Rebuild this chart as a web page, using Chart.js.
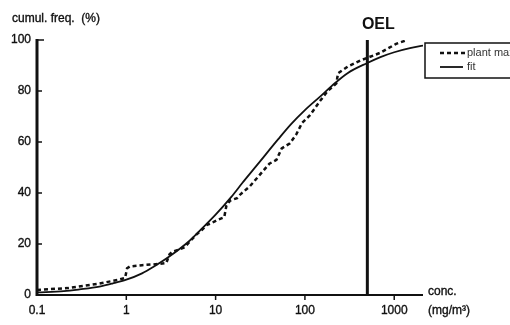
<!DOCTYPE html>
<html>
<head>
    <meta charset="utf-8">
    <script src="https://cdn.jsdelivr.net/npm/chart.js@4.4.0/dist/chart.umd.min.js"></script>
    <style>
        body { margin: 0; background: #fff; }
        #chart-container { width: 510px; height: 325px; }
    </style>
</head>
<body>
    <div id="chart-container">
        <canvas id="freqChart" width="510" height="325"></canvas>
    </div>
    <script>
        // data
        const plantConc = [0.1, 0.22, 0.5, 0.8, 0.97, 1.02, 1.1, 1.5, 2.0, 2.8, 3.05, 3.3, 4.0, 4.5, 5, 6, 7, 8, 9, 10.4, 12.5, 13.2, 14.5, 17.4, 19, 24, 31, 40, 48, 55, 68, 80, 93, 114, 147, 180, 225, 235, 300, 420, 700, 1050, 1400];
        const plantFreq = [2, 2.7, 4.5, 5.9, 6.7, 10.5, 11.2, 11.7, 12, 12.5, 16, 17, 18, 18.7, 20.5, 23.5, 25.5, 27.5, 28.2, 29.4, 30.5, 35, 37, 38, 39.5, 42.5, 47, 51.5, 53, 57.5, 59.5, 63, 67.5, 70.5, 76, 80, 83, 87, 89.5, 92, 95, 98.5, 100];

        const fitConc = [0.1, 0.2, 0.3, 0.5, 0.7, 1, 1.5, 2, 3, 5, 7, 10, 15, 20, 30, 50, 70, 100, 150, 200, 300, 500, 700, 1000, 1500, 2100];
        const fitFreq = [1.0, 1.5, 2.2, 3.3, 4.5, 6, 8.5, 11, 15, 21, 26, 31.5, 38.5, 44, 51.5, 61, 67, 72.5, 78, 82, 87, 91, 93.3, 95.2, 96.8, 97.8];

        const oelConc = 500;
        const xTicks = [0.1, 1, 10, 100, 1000];
        const xTickLabels = ['0.1', '1', '10', '100', '1000'];
        const yTicks = [0, 20, 40, 60, 80, 100];

        const FONT = '"Liberation Sans", Arial, sans-serif';

        const toPoints = (xs, ys) => xs.map((x, i) => ({ x: x, y: ys[i] }));

        // text with a hairline stroke so it looks like the printed original
        function heavyText(ctx, txt, x, y) {
            ctx.fillText(txt, x, y);
            ctx.lineWidth = 0.35;
            ctx.strokeText(txt, x, y);
        }

        const axesPlugin = {
            id: 'axesDraw',
            afterDraw: function (chart) {
                const ctx = chart.ctx;
                const xs = chart.scales.x, ys = chart.scales.y;
                const area = chart.chartArea;
                ctx.save();
                ctx.strokeStyle = '#111';
                ctx.fillStyle = '#111';

                // y axis
                ctx.lineWidth = 3;
                ctx.beginPath();
                ctx.moveTo(area.left, ys.getPixelForValue(100) - 1);
                ctx.lineTo(area.left, ys.getPixelForValue(0) + 1);
                ctx.stroke();
                // x axis
                ctx.lineWidth = 2;
                ctx.beginPath();
                ctx.moveTo(area.left, ys.getPixelForValue(0));
                ctx.lineTo(area.right, ys.getPixelForValue(0));
                ctx.stroke();

                // y ticks (inward) and labels
                ctx.font = '12px ' + FONT;
                ctx.textAlign = 'right';
                ctx.textBaseline = 'middle';
                yTicks.forEach(function (v) {
                    const py = ys.getPixelForValue(v);
                    if (v > 0) {
                        ctx.lineWidth = 1.5;
                        ctx.beginPath();
                        ctx.moveTo(area.left, py);
                        ctx.lineTo(area.left + (v === 100 ? 7 : 5), py);
                        ctx.stroke();
                    }
                    heavyText(ctx, String(v), area.left - 6, py);
                });

                // x ticks (down) and labels
                ctx.textAlign = 'center';
                xTicks.forEach(function (v, i) {
                    const px = xs.getPixelForValue(v);
                    if (i > 0) {
                        ctx.lineWidth = 1.5;
                        ctx.beginPath();
                        ctx.moveTo(px, ys.getPixelForValue(0));
                        ctx.lineTo(px, ys.getPixelForValue(0) + 5);
                        ctx.stroke();
                    }
                    heavyText(ctx, xTickLabels[i], px, 311);
                });

                // axis titles
                ctx.textAlign = 'left';
                heavyText(ctx, 'conc.', 428, 292);
                heavyText(ctx, '(mg/m³)', 428, 311);
                heavyText(ctx, 'cumul. freq.  (%)', 12, 19);

                // OEL label
                ctx.font = 'bold 16px ' + FONT;
                ctx.textAlign = 'center';
                ctx.fillText('OEL', xs.getPixelForValue(oelConc) + 11, 25);

                // legend box
                ctx.lineWidth = 1.5;
                ctx.strokeRect(425, 43, 100, 35);
                ctx.lineWidth = 2.5;
                ctx.setLineDash([4, 3]);
                ctx.beginPath();
                ctx.moveTo(440, 53);
                ctx.lineTo(466, 53);
                ctx.stroke();
                ctx.setLineDash([]);
                ctx.lineWidth = 1.8;
                ctx.beginPath();
                ctx.moveTo(440, 67);
                ctx.lineTo(463, 67);
                ctx.stroke();
                ctx.font = '11px ' + FONT;
                ctx.fillStyle = '#333';
                ctx.textAlign = 'left';
                ctx.fillText(chart.data.datasets[0].label, 467, 53);
                ctx.fillText(chart.data.datasets[1].label, 467, 67);

                ctx.restore();
            }
        };

        const chart = new Chart(document.getElementById('freqChart').getContext('2d'), {
            type: 'line',
            data: {
                datasets: [
                    {
                        label: 'plant max',
                        data: toPoints(plantConc, plantFreq),
                        borderColor: '#111',
                        borderWidth: 2.5,
                        borderDash: [4, 3],
                        pointRadius: 0,
                        tension: 0
                    },
                    {
                        label: 'fit',
                        data: toPoints(fitConc, fitFreq),
                        borderColor: '#111',
                        borderWidth: 1.8,
                        pointRadius: 0,
                        cubicInterpolationMode: 'monotone'
                    },
                    {
                        label: 'OEL',
                        data: [{ x: oelConc, y: 0 }, { x: oelConc, y: 100 }],
                        borderColor: '#111',
                        borderWidth: 3,
                        pointRadius: 0
                    }
                ]
            },
            options: {
                responsive: false,
                animation: false,
                devicePixelRatio: 1,
                layout: { padding: { left: 37, top: 40, right: 87, bottom: 30 } },
                scales: {
                    x: { type: 'logarithmic', min: 0.1, max: 2100, display: false },
                    y: { type: 'linear', min: 0, max: 100, display: false }
                },
                plugins: {
                    legend: { display: false },
                    tooltip: { enabled: false }
                }
            },
            plugins: [axesPlugin]
        });
    </script>
</body>
</html>
